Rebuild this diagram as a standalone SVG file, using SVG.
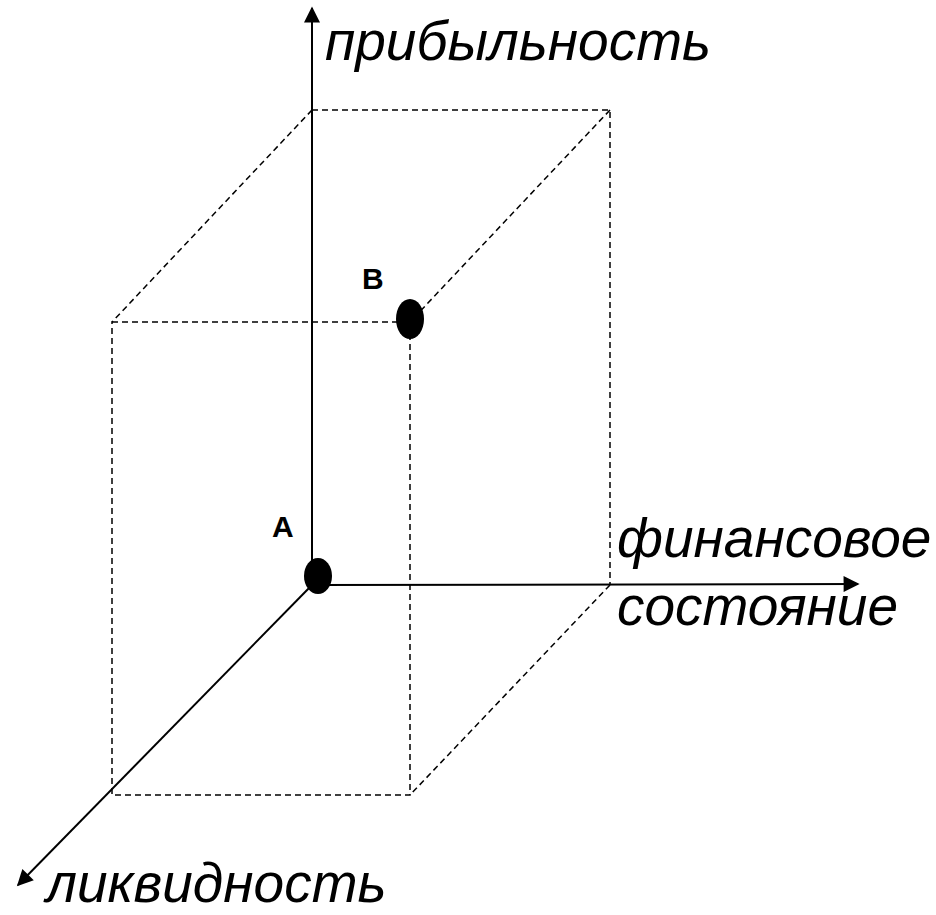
<svg xmlns="http://www.w3.org/2000/svg" width="936" height="915" viewBox="0 0 936 915">
<style>
.ax{stroke:#000;stroke-width:2;fill:none}
.ds{stroke:#000;stroke-width:1.5;stroke-dasharray:6 4;fill:none}
.lbl{font-family:"Liberation Sans",Arial,sans-serif;font-style:italic;font-size:55px;fill:#000}
.pt{font-family:"Liberation Sans",Arial,sans-serif;font-weight:bold;font-size:30px;fill:#000}
</style>
<defs>
<marker id="ahL" viewBox="0 0 10 10" refX="9" refY="5" markerWidth="20" markerHeight="16" markerUnits="userSpaceOnUse" orient="auto">
<path d="M0,0 L10,5 L0,10 z" fill="#000"/>
</marker>
</defs>
<rect width="936" height="915" fill="#fff"/>
<g id="box">
<path class="ds" d="M312,110 L610,110 L610,585"/>
<path class="ds" d="M112,322 L410,322 L410,795 L112,795 Z"/>
<path class="ds" d="M312,110 L112,322"/>
<path class="ds" d="M610,110 L410,322"/>
<path class="ds" d="M610,585 L410,795"/>
</g>
<g id="connectors">
<line class="ax" x1="312" y1="585" x2="312" y2="8" marker-end="url(#ahL)"/>
<line class="ax" x1="312" y1="585" x2="858" y2="584" marker-end="url(#ahL)"/>
<line class="ax" x1="312" y1="585" x2="18" y2="885" marker-end="url(#ahL)"/>
</g>
<g id="pointA">
<ellipse cx="318" cy="576" rx="14" ry="18" fill="#000"/>
<text class="pt" x="272" y="537">A</text>
</g>
<g id="pointB">
<ellipse cx="410" cy="319" rx="14" ry="20" fill="#000"/>
<text class="pt" x="362" y="289">B</text>
</g>
<g id="axis-labels">
<text class="lbl" x="325" y="60">прибыльность</text>
<text class="lbl" x="617" y="557">финансовое</text>
<text class="lbl" x="617" y="625">состояние</text>
<text class="lbl" x="46" y="902">ликвидность</text>
</g>
</svg>
